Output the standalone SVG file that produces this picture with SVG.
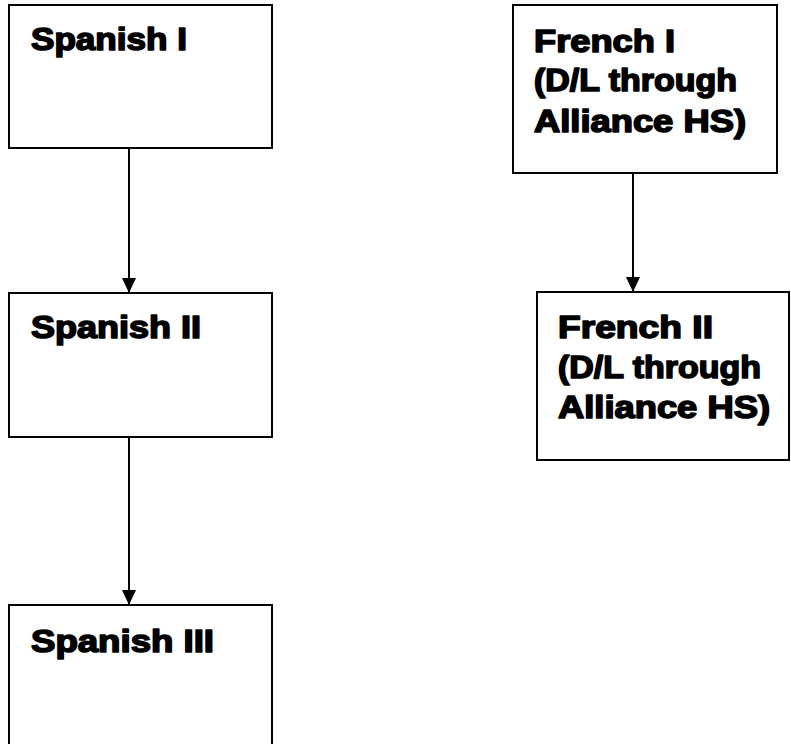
<svg xmlns="http://www.w3.org/2000/svg" width="791" height="744" viewBox="0 0 791 744">
<defs>
<style>
.box{fill:#fff;stroke:#000;stroke-width:2}
.t{font-family:"Arial Black","Liberation Sans",Arial,sans-serif;font-weight:900;font-size:31px;fill:#000;stroke:#000;stroke-width:1.6;stroke-linejoin:round}
.c{stroke:#000;stroke-width:2;fill:none;marker-end:url(#ah)}
</style>
<marker id="ah" viewBox="0 0 15 14" refX="15" refY="7" markerWidth="15" markerHeight="14" markerUnits="userSpaceOnUse" orient="auto">
<path d="M0,0 L15,7 L0,14 Z" fill="#000"/>
</marker>
</defs>
<rect width="791" height="744" fill="#fff"/>
<g id="connectors">
<line class="c" x1="129" y1="148" x2="129" y2="293"/>
<line class="c" x1="129" y1="437" x2="129" y2="605"/>
<line class="c" x1="633" y1="173" x2="633" y2="292"/>
</g>
<g id="spanish1">
<rect class="box" x="9" y="5" width="263" height="143"/>
<text class="t" x="31" y="50" textLength="156" lengthAdjust="spacingAndGlyphs">Spanish I</text>
</g>
<g id="spanish2">
<rect class="box" x="9" y="293" width="263" height="144"/>
<text class="t" x="31" y="338" textLength="170" lengthAdjust="spacingAndGlyphs">Spanish II</text>
</g>
<g id="spanish3">
<rect class="box" x="9" y="605" width="263" height="150"/>
<text class="t" x="31" y="652" textLength="183" lengthAdjust="spacingAndGlyphs">Spanish III</text>
</g>
<g id="french1">
<rect class="box" x="513" y="5" width="264" height="168"/>
<text class="t" x="534" y="52" textLength="141" lengthAdjust="spacingAndGlyphs">French I</text>
<text class="t" x="534" y="91" textLength="203" lengthAdjust="spacingAndGlyphs">(D/L through</text>
<text class="t" x="534" y="132" textLength="212" lengthAdjust="spacingAndGlyphs">Alliance HS)</text>
</g>
<g id="french2">
<rect class="box" x="537" y="292" width="252" height="168"/>
<text class="t" x="558" y="338" textLength="155" lengthAdjust="spacingAndGlyphs">French II</text>
<text class="t" x="558" y="378" textLength="203" lengthAdjust="spacingAndGlyphs">(D/L through</text>
<text class="t" x="558" y="418" textLength="212" lengthAdjust="spacingAndGlyphs">Alliance HS)</text>
</g>
</svg>
